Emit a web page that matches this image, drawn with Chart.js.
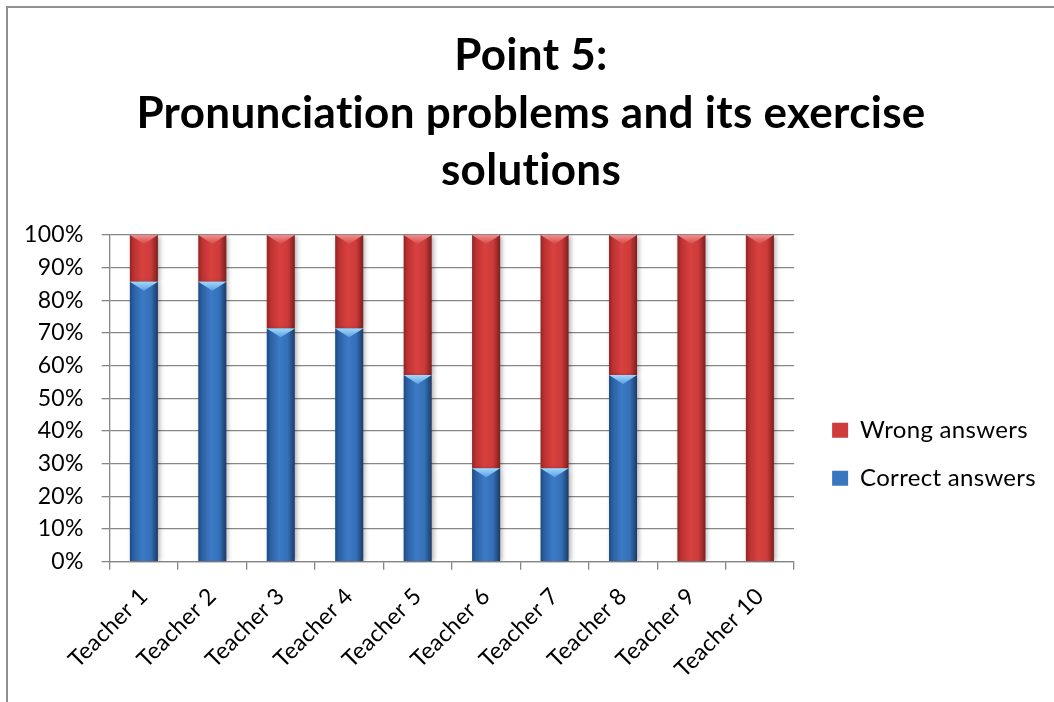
<!DOCTYPE html>
<html>
<head>
<meta charset="utf-8">
<title>Point 5: Pronunciation problems and its exercise solutions</title>
<script src="https://cdn.jsdelivr.net/npm/chart.js@4.4.1/dist/chart.umd.min.js"></script>
<style>
  html, body { margin: 0; padding: 0; background: #fff; overflow: hidden; }
  #frame { position: absolute; left: 6px; top: 6px; width: 1200px; height: 800px;
           border-left: 2px solid #8f8f8f; border-top: 2px solid #8f8f8f; }
  #chart { position: absolute; left: 0; top: 0; }
</style>
</head>
<body>
<div id="frame"></div>
<canvas id="chart" width="1054" height="702"></canvas>
<script>
// data (answers out of 7 per teacher)
const teachers = ['Teacher 1', 'Teacher 2', 'Teacher 3', 'Teacher 4', 'Teacher 5',
                  'Teacher 6', 'Teacher 7', 'Teacher 8', 'Teacher 9', 'Teacher 10'];
const correctAnswers = [85.7, 85.7, 71.4, 71.4, 57.1, 28.6, 28.6, 57.1, 0, 0];
const wrongAnswers = [14.3, 14.3, 28.6, 28.6, 42.9, 71.4, 71.4, 42.9, 100, 100];
const titleLines = ['Point 5:', 'Pronunciation problems and its exercise', 'solutions'];

const blueStops = ['#1e4a82', '#2c62a6', '#3c7ac5', '#3470b8', '#1b3a64'];
const redStops = ['#932423', '#bd3332', '#d8413f', '#cc3b3a', '#7d1e1d'];
const bevels = [['#a4d8fb', '#5b9fe2'], ['#f09090', '#d64a48']];
const swatches = ['#3a76c0', '#cf3c3b'];
const barPct = 0.41;

Chart.defaults.font.family = 'Lato, "Open Sans", sans-serif';
Chart.defaults.color = '#000';

// horizontal shading across each column, like the office bevel look
function columnFill(stops) {
  return function (ctx) {
    const chart = ctx.chart;
    if (ctx.type !== 'data' || !chart.chartArea) return stops[2];
    const xScale = chart.scales.x;
    const cx = xScale.getPixelForValue(ctx.dataIndex);
    const half = xScale.width / teachers.length * barPct / 2;
    const g = chart.ctx.createLinearGradient(cx - half, 0, cx + half, 0);
    g.addColorStop(0, stops[0]);
    g.addColorStop(0.15, stops[1]);
    g.addColorStop(0.45, stops[2]);
    g.addColorStop(0.75, stops[3]);
    g.addColorStop(1, stops[4]);
    return g;
  };
}

// lato joins "ti", a little letter spacing keeps the letters apart
const noLigatures = {
  id: 'noLigatures',
  beforeLayout(chart) { chart.ctx.letterSpacing = '0.3px'; },
  beforeDraw(chart) { chart.ctx.letterSpacing = '0.3px'; }
};

// the original sits its title a bit right of centre and the legend low and right
const boxNudge = {
  id: 'boxNudge',
  afterLayout(chart) {
    const lg = chart.legend;
    lg.left += 14; lg.right += 14;
    lg.top += 56; lg.bottom += 56;
    const tb = chart.titleBlock;
    tb.left += 12; tb.right += 12;
  }
};

const columnBevel = {
  id: 'columnBevel',
  beforeDatasetsDraw(chart) {
    const ctx = chart.ctx;
    ctx.save();
    ctx.shadowColor = 'rgba(0,0,0,0.35)';
    ctx.shadowBlur = 5;
    ctx.shadowOffsetX = 2;
    ctx.shadowOffsetY = 1;
  },
  afterDatasetsDraw(chart) {
    const ctx = chart.ctx;
    ctx.restore();
    chart.getSortedVisibleDatasetMetas().forEach(meta => {
      const colors = bevels[meta.index];
      meta.data.forEach(bar => {
        const {x, y, base, width} = bar.getProps(['x', 'y', 'base', 'width'], true);
        const h = base - y;
        if (h < 2) return;
        const d = Math.min(width * 0.32, h);
        const g = ctx.createLinearGradient(0, y, 0, y + d);
        g.addColorStop(0, colors[0]);
        g.addColorStop(1, colors[1]);
        ctx.save();
        ctx.fillStyle = g;
        ctx.beginPath();
        ctx.moveTo(x - width / 2, y);
        ctx.lineTo(x + width / 2, y);
        ctx.lineTo(x, y + d);
        ctx.closePath();
        ctx.fill();
        ctx.restore();
      });
    });
  }
};

const gridGray = '#878787';

new Chart(document.getElementById('chart'), {
  type: 'bar',
  data: {
    labels: teachers,
    datasets: [{
      label: 'Correct answers',
      data: correctAnswers,
      backgroundColor: columnFill(blueStops),
      borderWidth: 0
    }, {
      label: 'Wrong answers',
      data: wrongAnswers,
      backgroundColor: columnFill(redStops),
      borderWidth: 0
    }]
  },
  options: {
    responsive: false,
    animation: false,
    datasets: { bar: { barPercentage: barPct, categoryPercentage: 1 } },
    layout: { padding: { top: 7, left: 6, right: 22, bottom: 6 } },
    plugins: {
      title: {
        display: true,
        text: titleLines,
        color: '#000',
        font: { size: 44, weight: 'bold', lineHeight: 1.31 },
        padding: { top: 20, bottom: 35 }
      },
      legend: {
        position: 'right',
        fullSize: false,
        reverse: true,
        labels: {
          boxWidth: 16,
          boxHeight: 15,
          padding: 24,
          color: '#000',
          font: { size: 24 },
          // the default would pick up the first column's gradient
          generateLabels(chart) {
            const items = Chart.defaults.plugins.legend.labels.generateLabels(chart);
            items.forEach(item => { item.fillStyle = swatches[item.datasetIndex]; });
            return items;
          }
        }
      },
      tooltip: { enabled: false }
    },
    scales: {
      x: {
        stacked: true,
        grid: { drawOnChartArea: false, color: gridGray, tickLength: 8, lineWidth: 1.3 },
        border: { color: gridGray, width: 1.3 },
        ticks: { maxRotation: 45, minRotation: 45, autoSkip: false, padding: 13, font: { size: 23 } }
      },
      y: {
        stacked: true,
        min: 0,
        max: 100,
        grid: { color: gridGray, tickLength: 8, lineWidth: 1.3 },
        border: { color: gridGray, width: 1.3 },
        ticks: { stepSize: 10, padding: 18, font: { size: 23 }, callback: v => v + '%' }
      }
    }
  },
  plugins: [noLigatures, boxNudge, columnBevel]
});
</script>
</body>
</html>
